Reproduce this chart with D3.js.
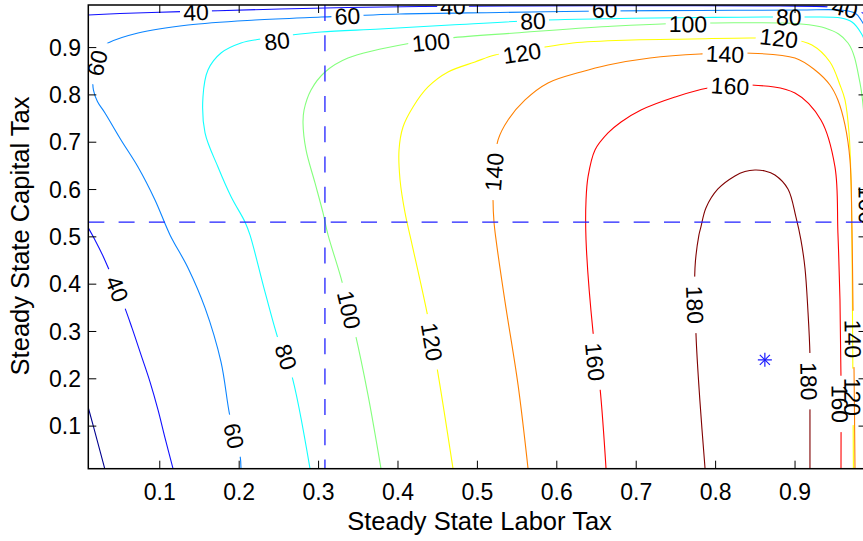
<!DOCTYPE html>
<html><head><meta charset="utf-8">
<script src="https://cdn.jsdelivr.net/npm/d3@7"></script>
<style>
body{margin:0;background:#fff}
svg{display:block}
text{font-family:"Liberation Sans",Arial,Helvetica,sans-serif;fill:#000}
</style>
</head><body>
<svg id="c" width="863" height="541"></svg>
<script>
// ---------- data ----------
const xTicks = [0.1,0.2,0.3,0.4,0.5,0.6,0.7,0.8,0.9];
const yTicks = [0.1,0.2,0.3,0.4,0.5,0.6,0.7,0.8,0.9];
const xLabel = "Steady State Labor Tax";
const yLabel = "Steady State Capital Tax";
const levels = [20,40,60,80,100,120,140,160,180];

// contour lines, [labor tax, capital tax]
const contour20 = [[0.010,0.139],[0.021,0.071],[0.0307,0.010]];
const contour40low = [[0.010,0.519],[0.0184,0.4935],[0.0285,0.4597],[0.0373,0.4259],[0.0537,0.3604],[0.065,0.3076],[0.0764,0.2505],[0.0877,0.1935],[0.0978,0.1343],[0.1066,0.0752],[0.1167,0.010]];
const contour40top = [[0.010,0.969],[0.050,0.972],[0.1267,0.976],[0.1733,0.978],[0.2514,0.9815],[0.337,0.9847],[0.428,0.9868],[0.5537,0.9879],[0.7174,0.9883],[0.8811,0.9879],[0.9441,0.9858],[0.9794,0.9773],[0.9895,0.9668],[0.9945,0.916]];
const contour60 = [[0.2023,0.010],[0.201,0.0392],[0.1885,0.1195],[0.1771,0.2357],[0.157,0.3498],[0.1356,0.4343],[0.1129,0.5041],[0.094,0.578],[0.0726,0.6477],[0.0512,0.7048],[0.031,0.7618],[0.0215,0.7860],[0.0165,0.8100],[0.0159,0.8315],[0.021,0.8675],[0.026,0.8991],[0.0348,0.9097],[0.0726,0.9308],[0.1356,0.9477],[0.2199,0.9583],[0.3031,0.9646],[0.4025,0.971],[0.5284,0.9742],[0.6582,0.9773],[0.7803,0.9784],[0.9063,0.9794],[0.9579,0.9794],[0.9755,0.9731],[0.9831,0.9583],[0.9894,0.9372],[0.9944,0.874]];
const contour80 = [[0.2892,0.010],[0.2653,0.2125],[0.2514,0.2716],[0.2325,0.3836],[0.2136,0.5041],[0.2073,0.5315],[0.190,0.5843],[0.1733,0.6477],[0.157,0.7196],[0.1544,0.7956],[0.1607,0.8527],[0.1771,0.8886],[0.2023,0.9097],[0.2275,0.9182],[0.2653,0.9266],[0.3031,0.933],[0.3774,0.9393],[0.4655,0.9477],[0.5877,0.9583],[0.6797,0.9615],[0.7803,0.9636],[0.9101,0.9646],[0.9579,0.9625],[0.9717,0.9541],[0.9831,0.9308],[0.9894,0.9055],[0.9944,0.830]];
const contour100 = [[0.3786,0.010],[0.3622,0.166],[0.3459,0.297],[0.3282,0.4132],[0.3119,0.5041],[0.3056,0.5505],[0.2955,0.6139],[0.2842,0.6836],[0.2804,0.7407],[0.2817,0.7681],[0.2905,0.8104],[0.3081,0.8484],[0.337,0.878],[0.4164,0.9097],[0.4655,0.9203],[0.5474,0.9308],[0.6645,0.9446],[0.7904,0.952],[0.9378,0.9414],[0.9667,0.9097],[0.9818,0.8252],[0.9882,0.7259],[0.9907,0.578],[0.992,0.010]];
const contour120 = [[0.4693,0.010],[0.4492,0.223],[0.4366,0.3393],[0.4164,0.4935],[0.4089,0.5505],[0.4026,0.6203],[0.4013,0.6836],[0.4063,0.7322],[0.4189,0.7745],[0.4378,0.8168],[0.463,0.8484],[0.497,0.8696],[0.5222,0.8844],[0.570,0.897],[0.6203,0.9097],[0.6946,0.916],[0.7702,0.9182],[0.8458,0.9203],[0.8936,0.9182],[0.9213,0.9055],[0.944,0.8696],[0.9566,0.821],[0.9629,0.7893],[0.968,0.7196],[0.9705,0.6203],[0.9717,0.4935],[0.9725,0.3033],[0.9735,0.010]];
const contour140 = [[0.5638,0.010],[0.5512,0.1871],[0.5348,0.3625],[0.5235,0.4935],[0.5209,0.5315],[0.5197,0.578],[0.5209,0.6372],[0.526,0.705],[0.5386,0.747],[0.560,0.7893],[0.5889,0.8252],[0.6304,0.8484],[0.6645,0.8632],[0.7173,0.878],[0.7803,0.8865],[0.8369,0.8886],[0.8999,0.878],[0.9251,0.8527],[0.944,0.821],[0.954,0.7893],[0.9629,0.7365],[0.9692,0.6625],[0.9717,0.5146],[0.973,0.3498],[0.9743,0.2188],[0.9755,0.010]];
const contour160 = [[0.662,0.010],[0.6544,0.1808],[0.6456,0.2991],[0.6368,0.4935],[0.6368,0.578],[0.6393,0.6266],[0.6481,0.6836],[0.6645,0.7196],[0.6809,0.7428],[0.706,0.7681],[0.7489,0.7956],[0.7904,0.8146],[0.8433,0.821],[0.8999,0.8041],[0.9326,0.747],[0.9503,0.6477],[0.954,0.5083],[0.9566,0.3667],[0.9579,0.1977],[0.9579,0.010]];
const contour180 = [[0.7867,0.010],[0.7803,0.1512],[0.7753,0.2928],[0.774,0.4343],[0.779,0.5041],[0.7815,0.521],[0.7878,0.5611],[0.8029,0.6012],[0.8243,0.6287],[0.8369,0.6382],[0.8495,0.6414],[0.8621,0.6393],[0.8747,0.6308],[0.8911,0.6012],[0.9011,0.5421],[0.9074,0.4935],[0.9125,0.4343],[0.9162,0.345],[0.9188,0.2505],[0.9188,0.1238],[0.9188,0.010]];

// contour label anchors: [level, labor tax, capital tax]
const contourLabels = [
  [40,0.1456,0.9752],[60,0.3364,0.9668],[40,0.4693,0.9879],[60,0.6602,0.981],
  [80,0.2477,0.9139],[80,0.570,0.9562],[80,0.8921,0.9646],
  [100,0.4415,0.9118],[100,0.7652,0.9499],[120,0.5562,0.8886],[120,0.8795,0.9203],
  [140,0.8118,0.8865],[160,0.8181,0.8189],[40,0.9628,0.9837],[60,0.021,0.8675],
  [40,0.0463,0.390],[60,0.1935,0.0794],[80,0.259,0.2463],[100,0.3384,0.3456],
  [120,0.4428,0.278],[140,0.5209,0.6372],[160,0.6483,0.2357],[180,0.774,0.3562],
  [180,0.9176,0.195],[160,0.9566,0.147],[140,0.973,0.2843],[120,0.9725,0.1618],[100,0.9907,0.5674]
];

const refLaborTax = 0.308;
const refCapitalTax = 0.531;
const optimum = [0.862, 0.240];

// ---------- styling ----------
const levelColor = {20:"#00008f",40:"#1010ff",60:"#0a84ff",80:"#10ffff",100:"#84ff7c",120:"#ffff00",140:"#ff8000",160:"#ff0000",180:"#800000"};
const contourSets = [
  [20,contour20],[40,contour40low],[40,contour40top],[60,contour60],[80,contour80],
  [100,contour100],[120,contour120],[140,contour140],[160,contour160],[180,contour180]
];

const W=863,H=541;
const L=88.3,R=866.5,T=5,B=468.7;
const x=d3.scaleLinear().domain([0.01,0.99]).range([L,R]);
const y=d3.scaleLinear().domain([0.01,0.99]).range([B,T]);
const svg=d3.select("#c");
const defs=svg.append("defs");
defs.append("clipPath").attr("id","plotclip").append("rect")
  .attr("x",L).attr("y",T).attr("width",R-L).attr("height",B-T);

const line=d3.line().x(d=>x(d[0])).y(d=>y(d[1])).curve(d3.curveCatmullRom.alpha(0.5));

const plot=svg.append("g").attr("clip-path","url(#plotclip)");
const linesG=plot.append("g");
const labG=plot.append("g");

const fs=23;
const labelInfo=contourLabels.map(([lv,lx,ly])=>{
  const px=x(lx),py=y(ly);
  let best=null;
  contourSets.filter(s=>s[0]===lv).forEach(s=>{
    const pts=s[1].map(p=>[x(p[0]),y(p[1])]);
    pts.forEach((p,i)=>{
      const d=(p[0]-px)**2+(p[1]-py)**2;
      if(!best||d<best.d) best={d,pts,i};
    });
  });
  const pts=best.pts,i=best.i;
  const a=pts[Math.max(0,i-1)], b=pts[Math.min(pts.length-1,i+1)];
  let ang=Math.atan2(b[1]-a[1],b[0]-a[0])*180/Math.PI;
  if(ang>90) ang-=180;
  if(ang<=-90) ang+=180;
  return {lv,px,py,ang};
});
labelInfo.forEach(l=>{
  const t=labG.append("text").attr("font-size",fs).attr("text-anchor","middle")
    .attr("dy","0.36em")
    .attr("transform",`translate(${l.px},${l.py}) rotate(${l.ang})`)
    .text(l.lv);
  l.w=t.node().getComputedTextLength();
});

levels.forEach(lv=>{
  const m=defs.append("mask").attr("id","mask"+lv).attr("maskUnits","userSpaceOnUse")
    .attr("x",0).attr("y",0).attr("width",W).attr("height",H);
  m.append("rect").attr("x",0).attr("y",0).attr("width",W).attr("height",H).attr("fill","#fff");
  labelInfo.filter(l=>l.lv===lv).forEach(l=>{
    const pad=3+6*Math.abs(Math.sin(l.ang*Math.PI/180));
    const w=l.w+2*pad, h=fs*0.9;
    m.append("rect").attr("x",-w/2).attr("y",-h/2).attr("width",w).attr("height",h)
      .attr("fill","#000").attr("transform",`translate(${l.px},${l.py}) rotate(${l.ang})`);
  });
});

contourSets.forEach(([lv,pts])=>{
  linesG.append("path").attr("d",line(pts)).attr("fill","none")
    .attr("stroke",levelColor[lv]).attr("stroke-width",1.1)
    .attr("mask",`url(#mask${lv})`);
});

// reference dashed lines
plot.append("line").attr("x1",x(refLaborTax)).attr("x2",x(refLaborTax))
  .attr("y1",y(0.99)).attr("y2",y(0.01))
  .attr("stroke","#2020ff").attr("stroke-width",1.3).attr("stroke-dasharray","16,14.3");
plot.append("line").attr("x1",x(0.01)).attr("x2",x(0.99))
  .attr("y1",y(refCapitalTax)).attr("y2",y(refCapitalTax))
  .attr("stroke","#2020ff").attr("stroke-width",1.3).attr("stroke-dasharray","16,14.3");

// optimum marker (asterisk)
const sx=x(optimum[0]), sy=y(optimum[1]), r=7;
const star=plot.append("g").attr("stroke","#1a1aff").attr("stroke-width",1.2);
[[0,-r,0,r],[-r,0,r,0],[-r*0.72,-r*0.72,r*0.72,r*0.72],[-r*0.72,r*0.72,r*0.72,-r*0.72]].forEach(s=>{
  star.append("line").attr("x1",sx+s[0]).attr("y1",sy+s[1]).attr("x2",sx+s[2]).attr("y2",sy+s[3]);
});

// axes box + ticks (inward)
const ax=svg.append("g").attr("stroke","#000").attr("stroke-width",1.5).attr("fill","none");
ax.append("rect").attr("x",L).attr("y",T).attr("width",R-L).attr("height",B-T);
const tl=8;
xTicks.forEach(t=>{
  ax.append("line").attr("x1",x(t)).attr("x2",x(t)).attr("y1",B).attr("y2",B-tl).attr("stroke-width",1);
  ax.append("line").attr("x1",x(t)).attr("x2",x(t)).attr("y1",T).attr("y2",T+tl).attr("stroke-width",1);
});
yTicks.forEach(t=>{
  ax.append("line").attr("x1",L).attr("x2",L+tl).attr("y1",y(t)).attr("y2",y(t)).attr("stroke-width",1);
  ax.append("line").attr("x1",R).attr("x2",R-tl).attr("y1",y(t)).attr("y2",y(t)).attr("stroke-width",1);
});
const tg=svg.append("g").attr("font-size",23);
xTicks.forEach(t=>{
  tg.append("text").attr("x",x(t)).attr("y",492).attr("dy","0.36em").attr("text-anchor","middle").text(t.toFixed(1));
});
yTicks.forEach(t=>{
  tg.append("text").attr("x",81).attr("y",y(t)).attr("dy","0.36em").attr("text-anchor","end").text(t.toFixed(1));
});
svg.append("text").attr("x",479.5).attr("y",521).attr("dy","0.36em").attr("text-anchor","middle")
  .attr("font-size",25.5).text(xLabel);
svg.append("text").attr("transform","translate(20,236) rotate(-90)").attr("dy","0.36em")
  .attr("text-anchor","middle").attr("font-size",25.5).text(yLabel);
</script>
</body></html>
